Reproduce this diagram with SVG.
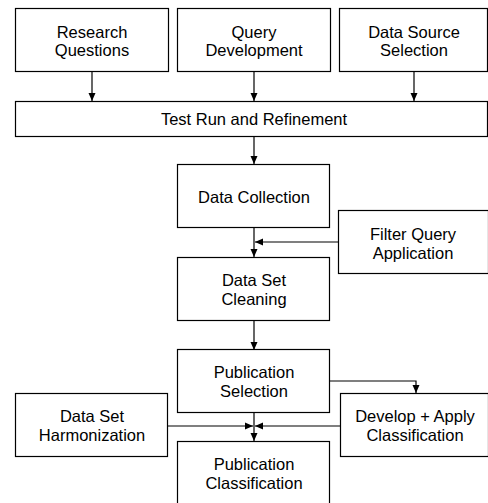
<svg xmlns="http://www.w3.org/2000/svg" width="488" height="503" viewBox="0 0 488 503">
<style>
rect{fill:#fff;stroke:#000;stroke-width:1.2}
text{font-family:"Liberation Sans",Arial,sans-serif;font-size:16.5px;fill:#000;text-anchor:middle}
.c{fill:none;stroke:#000;stroke-width:1.2}
</style>
<defs>
<marker id="a" viewBox="0 0 8 8" refX="8" refY="4" markerWidth="8" markerHeight="8" markerUnits="userSpaceOnUse" orient="auto">
<path d="M0,0.5 L8,4 L0,7.5 Z" fill="#000"/>
</marker>
</defs>
<rect width="488" height="503" style="stroke:none"/>
<g id="connectors">
<path class="c" d="M92,71.5 V101" marker-end="url(#a)"/>
<path class="c" d="M254,71.5 V101" marker-end="url(#a)"/>
<path class="c" d="M414,71.5 V101" marker-end="url(#a)"/>
<path class="c" d="M254,136.5 V164" marker-end="url(#a)"/>
<path class="c" d="M254,227.5 V257" marker-end="url(#a)"/>
<path class="c" d="M338,242 H255" marker-end="url(#a)"/>
<path class="c" d="M254,321 V350" marker-end="url(#a)"/>
<path class="c" d="M330,381 H416 V393" marker-end="url(#a)"/>
<path class="c" d="M254,413 V441" marker-end="url(#a)"/>
<path class="c" d="M168,426 H253" marker-end="url(#a)"/>
<path class="c" d="M340,426 H255" marker-end="url(#a)"/>
</g>
<g id="research"><rect x="15.5" y="8.5" width="153" height="63"/><text x="92" y="37.5">Research</text><text x="92" y="56">Questions</text></g>
<g id="query"><rect x="177.5" y="8.5" width="153" height="63"/><text x="254" y="37.5">Query</text><text x="254" y="56">Development</text></g>
<g id="datasource"><rect x="339.5" y="8.5" width="148" height="63"/><text x="414" y="37.5">Data Source</text><text x="414" y="56">Selection</text></g>
<g id="testrun"><rect x="15.5" y="101.5" width="472" height="35"/><text x="254" y="125">Test Run and Refinement</text></g>
<g id="collection"><rect x="177.5" y="164.5" width="152" height="63"/><text x="254" y="202.5">Data Collection</text></g>
<g id="filter"><rect x="338.5" y="210.5" width="150" height="63"/><text x="413" y="240">Filter Query</text><text x="413" y="258.5">Application</text></g>
<g id="cleaning"><rect x="177.5" y="257.5" width="152" height="63"/><text x="254" y="286">Data Set</text><text x="254" y="304.5">Cleaning</text></g>
<g id="pubsel"><rect x="177.5" y="349.5" width="152" height="63"/><text x="254" y="378">Publication</text><text x="254" y="396.5">Selection</text></g>
<g id="harmonization"><rect x="15.5" y="393.5" width="152" height="63"/><text x="92" y="422">Data Set</text><text x="92" y="440.5">Harmonization</text></g>
<g id="develop"><rect x="340.5" y="393.5" width="148" height="63"/><text x="415" y="422">Develop + Apply</text><text x="415" y="440.5">Classification</text></g>
<g id="pubclass"><rect x="177.5" y="441.5" width="152" height="63"/><text x="254" y="470">Publication</text><text x="254" y="488.5">Classification</text></g>
</svg>
